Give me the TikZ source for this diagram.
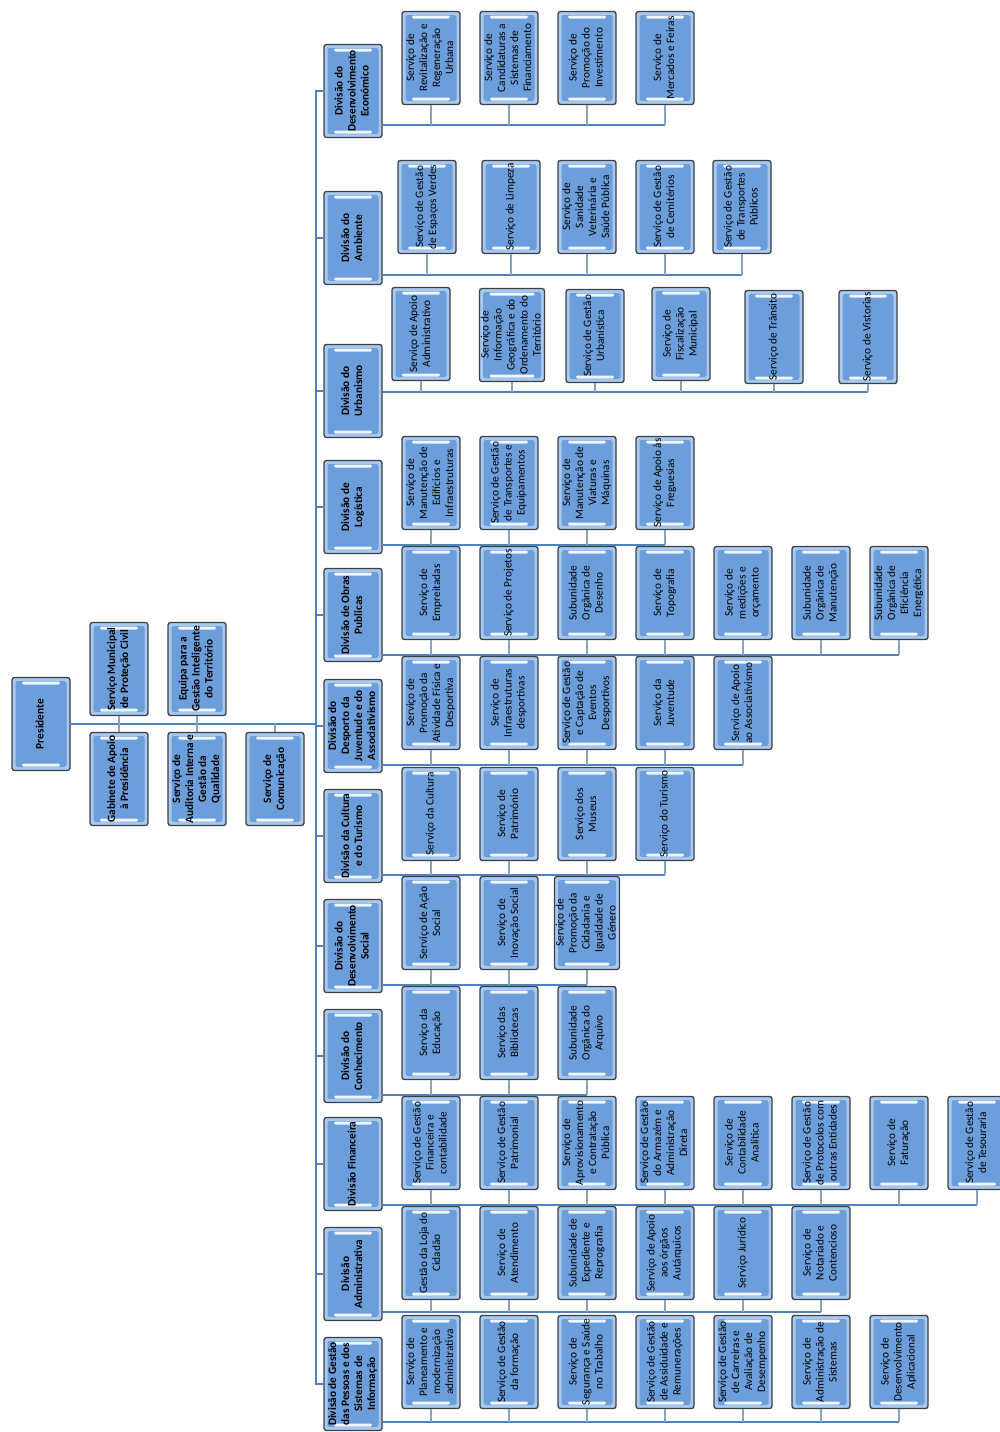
\documentclass[tikz,border=0pt]{standalone}
\usepackage{fontspec}
\setmainfont{Carlito}
\usepackage{graphicx}
\usetikzlibrary{calc}

\definecolor{boxline}{HTML}{3C4148}
\definecolor{boxrim}{HTML}{A8C8EE}
\definecolor{boxfill}{HTML}{6C9EDB}
\definecolor{boxshine}{HTML}{EEF6FF}
\definecolor{linkblue}{HTML}{4F81BD}
\definecolor{stubgray}{HTML}{8AA2BC}

% rotated multi-line label
\newcommand{\vt}[1]{\rotatebox{90}{\begin{tabular}{@{}c@{}}#1\end{tabular}}}

\begin{document}
\begin{tikzpicture}[x=1pt, y=-1pt,
    unit/.style={draw=boxline, line width=1.3pt, rounded corners=2.5pt, fill=boxrim,
      minimum width=58pt, minimum height=93pt, inner sep=0pt,
      font=\fontsize{11.3}{13}\selectfont,
      path picture={
        \fill[boxfill] ([shift={(3.5pt,3.5pt)}]path picture bounding box.south west)
          rectangle ([shift={(-3.5pt,-3.5pt)}]path picture bounding box.north east);
        \fill[boxshine, rounded corners=1.3pt] ([shift={(10pt,-4pt)}]path picture bounding box.north west)
          rectangle ([shift={(-10pt,-7pt)}]path picture bounding box.north east);
        \fill[boxshine, rounded corners=1.3pt] ([shift={(10pt,4pt)}]path picture bounding box.south west)
          rectangle ([shift={(-10pt,7pt)}]path picture bounding box.south east);
      }},
    svc/.style={unit},
    div/.style={unit, font=\fontsize{11.3}{13}\selectfont\bfseries},
    trunk/.style={draw=linkblue, line width=2.6pt},
    bus/.style={draw=linkblue, line width=2.2pt},
    stub/.style={draw=stubgray, line width=1.8pt}
]
\fill[white] (0,0) rectangle (1000,1432);
\useasboundingbox (0,0) rectangle (1000,1432);

% presidency and staff units
\node[div] (pres) at (41,724) {\vt{Presidente}};
\node[div] (civ) at (119,669) {\vt{Serviço Municipal\\de Proteção Civil}};
\node[div] (ter) at (197,669) {\vt{Equipa para a\\Gestão Inteligente\\do Território}};
\node[div] (gab) at (119,779) {\vt{Gabinete de Apoio\\à Presidência}};
\node[div] (aud) at (197,779) {\vt{Serviço de\\Auditoria Interna e\\Gestão da\\Qualidade}};
\node[div] (com) at (275,779) {\vt{Serviço de\\Comunicação}};

% divisions
\node[div] (d1) at (353,91) {\vt{Divisão do\\Desenvolvimento\\Económico}};
\node[div] (d2) at (353,238) {\vt{Divisão do\\Ambiente}};
\node[div] (d3) at (353,391) {\vt{Divisão do\\Urbanismo}};
\node[div] (d4) at (353,507) {\vt{Divisão de\\Logística}};
\node[div] (d5) at (353,615) {\vt{Divisão de Obras\\Publicas}};
\node[div] (d6) at (353,726) {\vt{Divisão do\\Desporto da\\Juventude e do\\Associativismo}};
\node[div] (d7) at (353,836) {\vt{Divisão da Cultura\\e do Turismo}};
\node[div] (d8) at (353,946) {\vt{Divisão do\\Desenvolvimento\\Social}};
\node[div] (d9) at (353,1056) {\vt{Divisão do\\Conhecimento}};
\node[div] (d10) at (353,1164) {\vt{Divisão Financeira}};
\node[div] (d11) at (353,1274) {\vt{Divisão\\Administrativa}};
\node[div] (d12) at (353,1384) {\vt{Divisão de Gestão\\das Pessoas e dos\\Sistemas de\\Informação}};

% services
\node[svc] (s1-1) at (431,58) {\vt{Serviço de\\Revitalização e\\Regeneração\\Urbana}};
\node[svc] (s1-2) at (509,58) {\vt{Serviço de\\Candidaturas a\\Sistemas de\\Financiamento}};
\node[svc] (s1-3) at (587,58) {\vt{Serviço de\\Promoção do\\Investimento}};
\node[svc] (s1-4) at (665,58) {\vt{Serviço de\\Mercados e Feiras}};

\node[svc] (s2-1) at (427,207) {\vt{Serviço de Gestão\\de Espaços Verdes}};
\node[svc] (s2-2) at (511,207) {\vt{Serviço de Limpeza}};
\node[svc] (s2-3) at (587,207) {\vt{Serviço de\\Sanidade\\Veterinária e\\Saúde Pública}};
\node[svc] (s2-4) at (665,207) {\vt{Serviço de Gestão\\de Cemitérios}};
\node[svc] (s2-5) at (742,207) {\vt{Serviço de Gestão\\de Transportes\\Públicos}};

\node[svc] (s3-1) at (421,334) {\vt{Serviço de Apoio\\Administrativo}};
\node[svc] (s3-2) at (512,335) {\vt{Serviço de\\Informação\\Geográfica e do\\Ordenamento do\\Território}};
\node[svc] (s3-3) at (595,336) {\vt{Serviço de Gestão\\Urbanística}};
\node[svc] (s3-4) at (681,334) {\vt{Serviço de\\Fiscalização\\Municipal}};
\node[svc] (s3-5) at (774,337) {\vt{Serviço de Trânsito}};
\node[svc] (s3-6) at (868,337) {\vt{Serviço de Vistorias}};

\node[svc] (s4-1) at (431,483) {\vt{Serviço de\\Manutenção de\\Edifícios e\\Infraestruturas}};
\node[svc] (s4-2) at (509,483) {\vt{Serviço de Gestão\\de Transportes e\\Equipamentos}};
\node[svc] (s4-3) at (587,483) {\vt{Serviço de\\Manutenção de\\Viaturas e\\Máquinas}};
\node[svc] (s4-4) at (665,483) {\vt{Serviço de Apoio às\\Freguesias}};

\node[svc] (s5-1) at (431,593) {\vt{Serviço de\\Empreitadas}};
\node[svc] (s5-2) at (509,593) {\vt{Serviço de Projetos}};
\node[svc] (s5-3) at (587,593) {\vt{Subunidade\\Orgânica de\\Desenho}};
\node[svc] (s5-4) at (665,593) {\vt{Serviço de\\Topografia}};
\node[svc] (s5-5) at (743,593) {\vt{Serviço de\\medições e\\orçamento}};
\node[svc] (s5-6) at (821,593) {\vt{Subunidade\\Orgânica de\\Manutenção}};
\node[svc] (s5-7) at (899,593) {\vt{Subunidade\\Orgânica de\\Eficiência\\Energética}};

\node[svc] (s6-1) at (431,703) {\vt{Serviço de\\Promoção da\\Atividade Física e\\Desportiva}};
\node[svc] (s6-2) at (509,703) {\vt{Serviço de\\Infraestruturas\\desportivas}};
\node[svc] (s6-3) at (587,703) {\vt{Serviço de Gestão\\e Captação de\\Eventos\\Desportivos}};
\node[svc] (s6-4) at (665,703) {\vt{Serviço da\\Juventude}};
\node[svc] (s6-5) at (743,703) {\vt{Serviço de Apoio\\ao Associativismo}};

\node[svc] (s7-1) at (431,814) {\vt{Serviço da Cultura}};
\node[svc] (s7-2) at (509,814) {\vt{Serviço de\\Património}};
\node[svc] (s7-3) at (587,814) {\vt{Serviço dos\\Museus}};
\node[svc] (s7-4) at (665,814) {\vt{Serviço do Turismo}};

\node[svc] (s8-1) at (431,923) {\vt{Serviço de Ação\\Social}};
\node[svc] (s8-2) at (509,923) {\vt{Serviço de\\Inovação Social}};
\node[svc] (s8-3) at (587,923) {\vt{Serviço de\\Promoção da\\Cidadania e\\Igualdade de\\Género}};

\node[svc] (s9-1) at (431,1033) {\vt{Serviço da\\Educação}};
\node[svc] (s9-2) at (509,1033) {\vt{Serviço das\\Bibliotecas}};
\node[svc] (s9-3) at (587,1033) {\vt{Subunidade\\Orgânica do\\Arquivo}};

\node[svc] (s10-1) at (431,1143) {\vt{Serviço de Gestão\\Financeira e\\contabilidade}};
\node[svc] (s10-2) at (509,1143) {\vt{Serviço de Gestão\\Patrimonial}};
\node[svc] (s10-3) at (587,1143) {\vt{Serviço de\\Aprovisionamento\\e Contratação\\Pública}};
\node[svc] (s10-4) at (665,1143) {\vt{Serviço de Gestão\\do Armazém e\\Administração\\Direta}};
\node[svc] (s10-5) at (743,1143) {\vt{Serviço de\\Contabilidade\\Analítica}};
\node[svc] (s10-6) at (821,1143) {\vt{Serviço de Gestão\\de Protocolos com\\outras Entidades}};
\node[svc] (s10-7) at (899,1143) {\vt{Serviço de\\Faturação}};
\node[svc] (s10-8) at (977,1143) {\vt{Serviço de Gestão\\de Tesouraria}};

\node[svc] (s11-1) at (431,1253) {\vt{Gestão da Loja do\\Cidadão}};
\node[svc] (s11-2) at (509,1253) {\vt{Serviço de\\Atendimento}};
\node[svc] (s11-3) at (587,1253) {\vt{Subunidade de\\Expediente e\\Reprografia}};
\node[svc] (s11-4) at (665,1253) {\vt{Serviço de Apoio\\aos órgãos\\Autárquicos}};
\node[svc] (s11-5) at (743,1253) {\vt{Serviço Jurídico}};
\node[svc] (s11-6) at (821,1253) {\vt{Serviço de\\Notariado e\\Contencioso}};

\node[svc] (s12-1) at (431,1362) {\vt{Serviço de\\Planeamento e\\modernização\\administrativa}};
\node[svc] (s12-2) at (509,1362) {\vt{Serviço de Gestão\\da formação}};
\node[svc] (s12-3) at (587,1362) {\vt{Serviço de\\Segurança e Saúde\\no Trabalho}};
\node[svc] (s12-4) at (665,1362) {\vt{Serviço de Gestão\\de Assiduidade e\\Remunerações}};
\node[svc] (s12-5) at (743,1362) {\vt{Serviço de Gestão\\de Carreiras e\\Avaliação de\\Desempenho}};
\node[svc] (s12-6) at (821,1362) {\vt{Serviço de\\Administração de\\Sistemas}};
\node[svc] (s12-7) at (899,1362) {\vt{Serviço de\\Desenvolvimento\\Aplicacional}};

% connectors
\coordinate (ttop) at (316,91);
\coordinate (tbot) at (316,1384);
\draw[trunk] (pres.east) -- (pres.east -| ttop);
\foreach \st in {civ,ter} \draw[stub] (\st.south) -- (\st |- pres);
\foreach \st in {gab,aud,com} \draw[stub] (\st.north) -- (\st |- pres);
\draw[trunk] (d1.west) -- (ttop) -- (tbot) -- (d12.west);
\foreach \i in {2,...,11} \draw[trunk] (ttop |- d\i.west) -- (d\i.west);
\foreach \row/\last/\by in {1/4/125, 2/5/275, 3/6/392, 4/4/545, 5/7/655, 6/5/765,
    7/4/875, 8/3/985, 9/3/1095, 10/8/1205, 11/6/1312, 12/7/1422} {
  \coordinate (bus\row) at (0,\by);
  \draw[bus] (d\row.east |- bus\row) -- (s\row-\last |- bus\row);
  \foreach \k in {1,...,\last} \draw[stub] (s\row-\k.south) -- (s\row-\k |- bus\row);
}
\end{tikzpicture}
\end{document}
